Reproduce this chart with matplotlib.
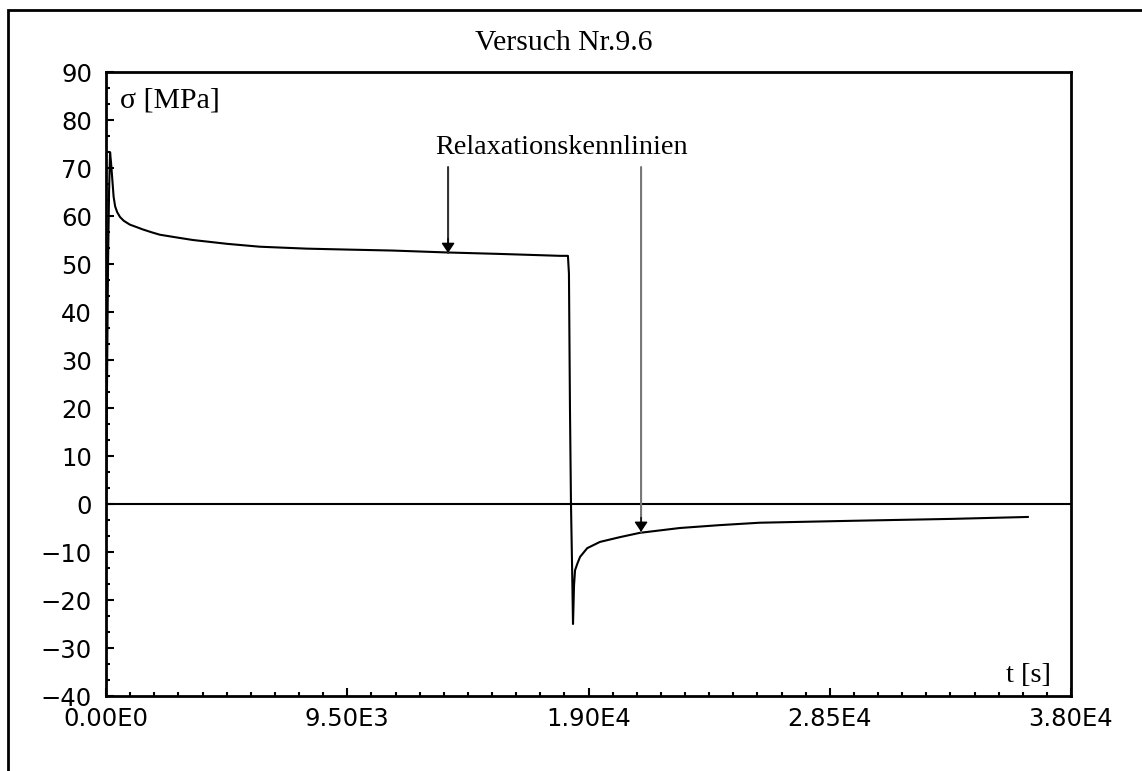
import matplotlib
matplotlib.use("Agg")
import matplotlib.pyplot as plt
import matplotlib.patches as mpatches
from matplotlib.ticker import MultipleLocator, FuncFormatter

t_s = [0, 40, 80, 120, 160, 200, 250, 300, 360, 440, 550, 700, 940, 1200, 1450,
       1800, 2120, 2700, 3420, 4100, 4770, 6060, 7900, 9550, 11300, 13450,
       15500, 17300, 17880, 18190,
       18230, 18270, 18310, 18350, 18390, 18430, 18470, 18570, 18670, 18950,
       19450, 20240, 21030, 22600, 24170, 25740, 29380, 33310, 36300]
sigma = [0, 25, 50, 65, 73.3, 71, 67.5, 64, 62, 60.8, 59.8, 59.0, 58.2, 57.7, 57.2,
         56.6, 56.1, 55.6, 55.0, 54.6, 54.2, 53.6, 53.2, 53.0, 52.8, 52.4,
         52.1, 51.8, 51.7, 51.7,
         48, 20, 0, -12, -25, -17, -13.8, -12.3, -11, -9.2,
         -7.9, -6.9, -6.0, -5.0, -4.4, -3.9, -3.5, -3.1, -2.7]

x_ticks = [0, 9500, 19000, 28500, 38000]
x_labels = ["0.00E0", "9.50E3", "1.90E4", "2.85E4", "3.80E4"]
arrow_t = [13470, 21070]
arrow_sigma = [52.3, -5.8]

W, H = 1142, 771
fig = plt.figure(figsize=(W / 100, H / 100), dpi=100, facecolor="white")
ax = fig.add_axes([106 / W, 1 - 696 / H, (1071 - 106) / W, (696 - 72) / H])

# Rahmen um die ganze Grafik
fig.add_artist(mpatches.Rectangle((8 / W, -0.1), 1.2, 1 - 10 / H + 0.1,
                                  transform=fig.transFigure, fill=False,
                                  edgecolor="black", linewidth=2))

ax.plot(t_s, sigma, color="black", linewidth=1.5)
ax.axhline(0, color="black", linewidth=1.5)

ax.set_xlim(0, 38000)
ax.set_ylim(-40, 90)
ax.set_xticks(x_ticks)
ax.set_xticklabels(x_labels)
ax.xaxis.set_minor_locator(MultipleLocator(950))
ax.yaxis.set_major_locator(MultipleLocator(10))
ax.yaxis.set_minor_locator(MultipleLocator(10 / 3))
ax.yaxis.set_major_formatter(FuncFormatter(lambda v, p: f"{v:.0f}".replace("-", "\u2212")))

ax.tick_params(which="both", direction="in", top=False, right=False, width=1.5,
               labelsize=17.5)
ax.tick_params(which="major", length=6)
ax.tick_params(which="minor", length=3)
ax.tick_params(axis="y", pad=10)
ax.tick_params(axis="x", pad=8)
for s in ax.spines.values():
    s.set_linewidth(2)

serif = "Liberation Serif"
fig.text(564 / W, 1 - 50 / H, "Versuch Nr.9.6", family=serif, fontsize=21.3,
         ha="center", va="baseline")
fig.text(120 / W, 1 - 108 / H, "\u03c3 [MPa]", family=serif, fontsize=21.5,
         ha="left", va="baseline")
fig.text(1051 / W, 1 - 682 / H, "t [s]", family=serif, fontsize=20.5,
         ha="right", va="baseline")
fig.text(562 / W, 1 - 154 / H, "Relaxationskennlinien", family=serif, fontsize=20.3,
         ha="center", va="baseline")

line_colors = ["#333333", "#777777"]
for xt, yt, c in zip(arrow_t, arrow_sigma, line_colors):
    ax.annotate("", xy=(xt, yt), xytext=(xt, 70.2),
                arrowprops=dict(arrowstyle="-", color=c, lw=1.5,
                                shrinkA=0, shrinkB=0))
    ax.annotate("", xy=(xt, yt), xytext=(xt, yt + 3),
                arrowprops=dict(arrowstyle="-|>,head_length=0.6,head_width=0.4",
                                mutation_scale=10, color="black", lw=1,
                                shrinkA=0, shrinkB=0))

fig.savefig("out.png", dpi=100, facecolor="white")
